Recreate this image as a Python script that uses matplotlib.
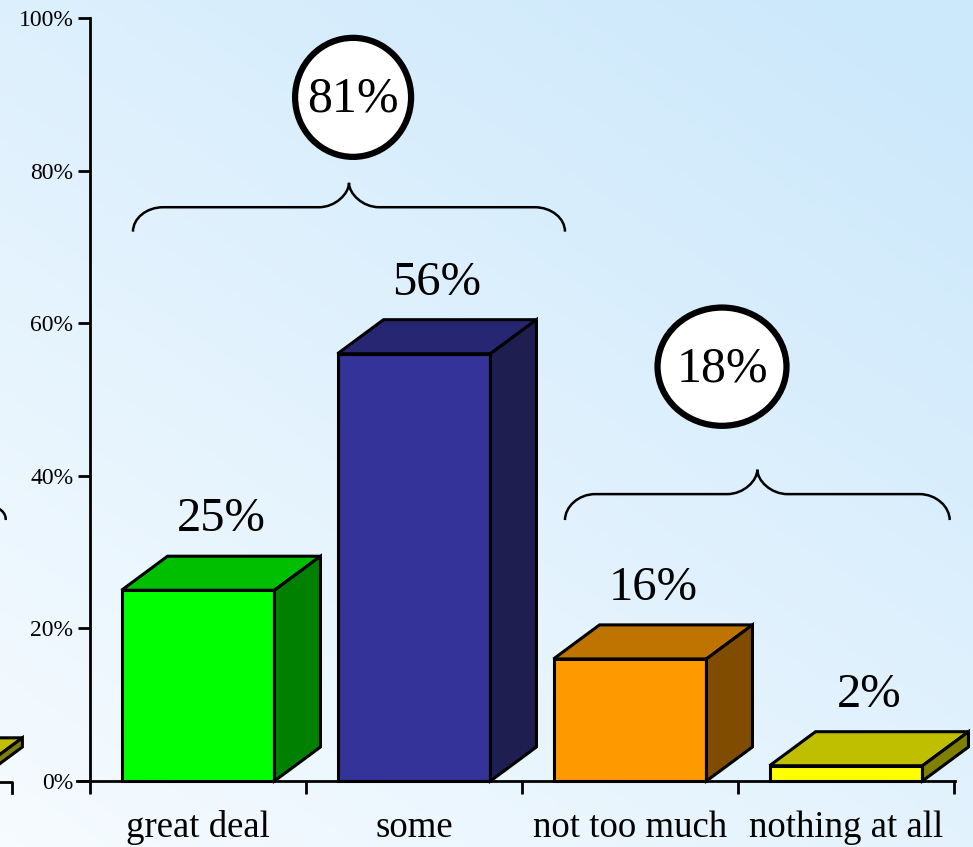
import matplotlib
matplotlib.use('Agg')
import matplotlib.pyplot as plt
import numpy as np
from matplotlib.patches import Polygon, Ellipse, PathPatch
from matplotlib.path import Path

categories = ['great deal', 'some', 'not too much', 'nothing at all']
values = [25, 56, 16, 2]
front_colors = ['#00FF00', '#333399', '#FF9900', '#FFFF00']
top_colors = ['#00BF00', '#262673', '#BF7300', '#BFBF00']
side_colors = ['#008000', '#1E1E50', '#804D00', '#808000']
yticks = [0, 20, 40, 60, 80, 100]
group_labels = ['81%', '18%']

plt.rcParams['font.family'] = ['Liberation Serif', 'DejaVu Serif']

fig = plt.figure(figsize=(9.73, 8.47), dpi=100)

# background gradient (white bottom-left -> light blue top-right)
bg = fig.add_axes([0, 0, 1, 1])
gx, gy = np.meshgrid(np.linspace(0, 1, 200), np.linspace(0, 1, 200))
t = np.clip(0.45 * gx + 0.6 * (1 - gy), 0, 1)
c0 = np.array([0.965, 0.985, 1.0])
c1 = np.array([0.80, 0.91, 0.985])
img = c0[None, None, :] * (1 - t[..., None]) + c1[None, None, :] * t[..., None]
bg.imshow(img, extent=[0, 1, 0, 1], aspect='auto', origin='upper')
bg.axis('off')

W, H = 973, 847
ax = fig.add_axes([90 / W, (H - 781) / H, (973 - 90) / W, (781 - 18) / H])
ax.set_facecolor('none')
ax.set_xlim(0, 883 / 216)
ax.set_ylim(0, 100)

half = 0.354
dx = 0.213
dy = 4.46


def draw_bar(xc, v, fc, tc, sc):
    x0, x1 = xc - half, xc + half
    kw = dict(edgecolor='black', linewidth=2.2, joinstyle='miter', clip_on=False)
    ax.add_patch(Polygon([(x0, 0), (x1, 0), (x1, v), (x0, v)], facecolor=fc, zorder=3, **kw))
    ax.add_patch(Polygon([(x0, v), (x1, v), (x1 + dx, v + dy), (x0 + dx, v + dy)],
                         facecolor=tc, zorder=3, **kw))
    ax.add_patch(Polygon([(x1, 0), (x1 + dx, dy), (x1 + dx, v + dy), (x1, v)],
                         facecolor=sc, zorder=3, **kw))


for i, v in enumerate(values):
    xc = i + 0.5
    draw_bar(xc, v, front_colors[i], top_colors[i], side_colors[i])
    ax.text(xc + dx / 2, v + dy + 3.3, f'{v}%', ha='center', va='baseline',
            fontsize=35, zorder=5)

# fragment of the neighbouring slide on the left edge
draw_bar(-0.88, 1.2, '#FFFF00', '#BFBF00', '#808000')


def brace(xa, xb, y_end, y_h, y_tip, rx=0.14, ry=3.2):
    xm = (xa + xb) / 2
    k = 0.55
    verts = [(xa, y_end),
             (xa, y_end + k * ry * 1.0), (xa + rx * (1 - k), y_h), (xa + rx, y_h),
             (xm - rx, y_h),
             (xm - rx * (1 - k), y_h), (xm, y_tip - ry * (1 - k)), (xm, y_tip),
             (xm, y_tip - ry * (1 - k)), (xm + rx * (1 - k), y_h), (xm + rx, y_h),
             (xb - rx, y_h),
             (xb - rx * (1 - k), y_h), (xb, y_end + k * ry), (xb, y_end)]
    codes = [Path.MOVETO,
             Path.CURVE4, Path.CURVE4, Path.CURVE4,
             Path.LINETO,
             Path.CURVE4, Path.CURVE4, Path.CURVE4,
             Path.CURVE4, Path.CURVE4, Path.CURVE4,
             Path.LINETO,
             Path.CURVE4, Path.CURVE4, Path.CURVE4]
    ax.add_patch(PathPatch(Path(verts, codes), facecolor='none', edgecolor='black',
                           linewidth=1.8, clip_on=False, zorder=4))


brace(0.199, 2.199, 72.0, 75.2, 78.4)
brace(2.199, 3.98, 34.2, 37.6, 40.8)
brace(-2.2, -0.39, 34.2, 37.6, 40.8)

# circled group totals
circles = [(1.218, 89.6, 0.537, 15.6), (2.926, 54.3, 0.597, 15.5)]
for (cx, cy, w, h), lab in zip(circles, group_labels):
    ax.add_patch(Ellipse((cx, cy), w, h, facecolor='white', edgecolor='black',
                         linewidth=4.5, zorder=5, clip_on=False))
    ax.text(cx, cy - 0.3, lab, ha='center', va='center', fontsize=36, zorder=6)

# axes styling
for s in ['top', 'right']:
    ax.spines[s].set_visible(False)
ax.spines['left'].set_linewidth(2)
ax.spines['bottom'].set_linewidth(2)
ax.spines['bottom'].set_bounds(-0.06, 4.005)
ax.set_yticks(yticks)
ax.set_yticklabels([f'{y}%' for y in yticks], fontsize=17)
ax.tick_params(axis='y', length=9, width=2, pad=3)
ax.set_xticks([0, 1, 2, 3, 4])
ax.set_xticklabels([])
ax.tick_params(axis='x', length=9, width=2)
for i, c in enumerate(categories):
    ax.text(i + 0.5, -7.3, c, ha='center', va='baseline', fontsize=26.5,
            transform=ax.transData, clip_on=False)

# left-edge axis fragment
ax.plot([-0.45, -0.361, -0.361], [-0.1, -0.1, -1.6], color='black', lw=2, clip_on=False)

fig.savefig('out.png', dpi=100)
